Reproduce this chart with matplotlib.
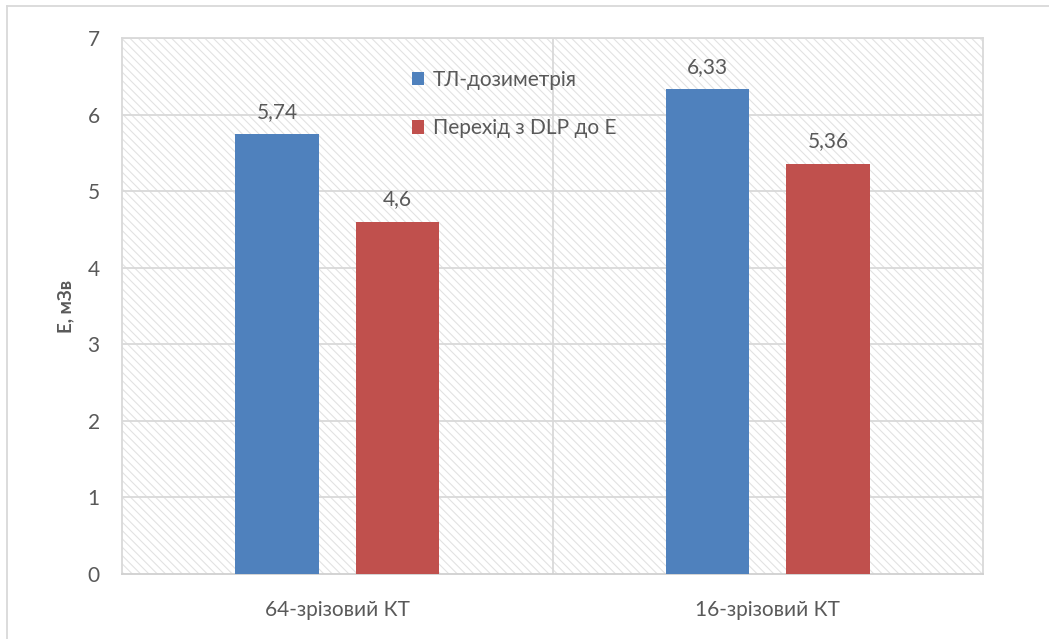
import matplotlib
matplotlib.use("Agg")
import matplotlib.pyplot as plt
import numpy as np
from matplotlib.patches import Rectangle
from matplotlib.lines import Line2D

categories = ["64-зрізовий КТ", "16-зрізовий КТ"]
series_names = ["ТЛ-дозиметрія", "Перехід з DLP до Е"]
tl_values = [5.74, 6.33]
dlp_values = [4.6, 5.36]
value_labels = [["5,74", "6,33"], ["4,6", "5,36"]]
y_ticks = [0, 1, 2, 3, 4, 5, 6, 7]

colors = ["#4f81bd", "#c0504d"]
text_color = "#595959"
grid_color = "#d9d9d9"

plt.rcParams["font.family"] = ["Lato", "DejaVu Sans"]
plt.rcParams["hatch.linewidth"] = 0.8

fig = plt.figure(figsize=(10.49, 6.39), dpi=100)
ax = fig.add_axes([122 / 1049, 65 / 639, 861 / 1049, 536 / 639])

# hatched plot-area background
bg = Rectangle((0, 0), 1, 1, transform=ax.transAxes, facecolor="white",
               edgecolor="#e2e2e2", hatch="\\\\\\\\", linewidth=0, zorder=0)
ax.add_patch(bg)

x = np.arange(len(categories))
width = 0.195
offset = 0.14
series = [tl_values, dlp_values]
for i, vals in enumerate(series):
    pos = x + (i * 2 - 1) * offset
    bars = ax.bar(pos, vals, width=width, color=colors[i], zorder=3,
                  label=series_names[i])
    for b, lab in zip(bars, value_labels[i]):
        ax.annotate(lab, (b.get_x() + b.get_width() / 2, b.get_height()),
                    xytext=(0, 9), textcoords="offset points",
                    ha="center", va="bottom", fontsize=15, color=text_color)

ax.set_xlim(-0.5, 1.5)
ax.set_ylim(0, 7)
ax.set_yticks(y_ticks)
ax.set_yticklabels([str(t) for t in y_ticks])
ax.set_xticks(x)
ax.set_xticklabels(categories)
ax.tick_params(axis="both", length=0, labelsize=15, labelcolor=text_color)
ax.tick_params(axis="y", pad=16)
ax.tick_params(axis="x", pad=19)

for yv in y_ticks[1:]:
    ax.axhline(yv, color=grid_color, lw=1.3, zorder=1)
ax.axvline(0.5, color=grid_color, lw=1.3, zorder=1)

for s in ax.spines.values():
    s.set_color(grid_color)
    s.set_linewidth(1.3)
ax.spines["bottom"].set_color("#d0d0d0")

ax.set_ylabel("Е, мЗв", fontsize=13.5, fontweight="bold", color=text_color,
              labelpad=10)

leg = ax.legend(loc="upper left", bbox_to_anchor=(0.315, 0.975), frameon=False,
                fontsize=15, handlelength=0.6, handleheight=0.6,
                handletextpad=0.4, labelspacing=1.35, labelcolor=text_color)

# outer chart frame
fig.add_artist(Line2D([7 / 1049, 7 / 1049], [0, 1 - 6 / 639],
                      transform=fig.transFigure, color=grid_color, lw=1.3))
fig.add_artist(Line2D([7 / 1049, 1], [1 - 6 / 639, 1 - 6 / 639],
                      transform=fig.transFigure, color=grid_color, lw=1.3))

fig.savefig("out.png", dpi=100)
